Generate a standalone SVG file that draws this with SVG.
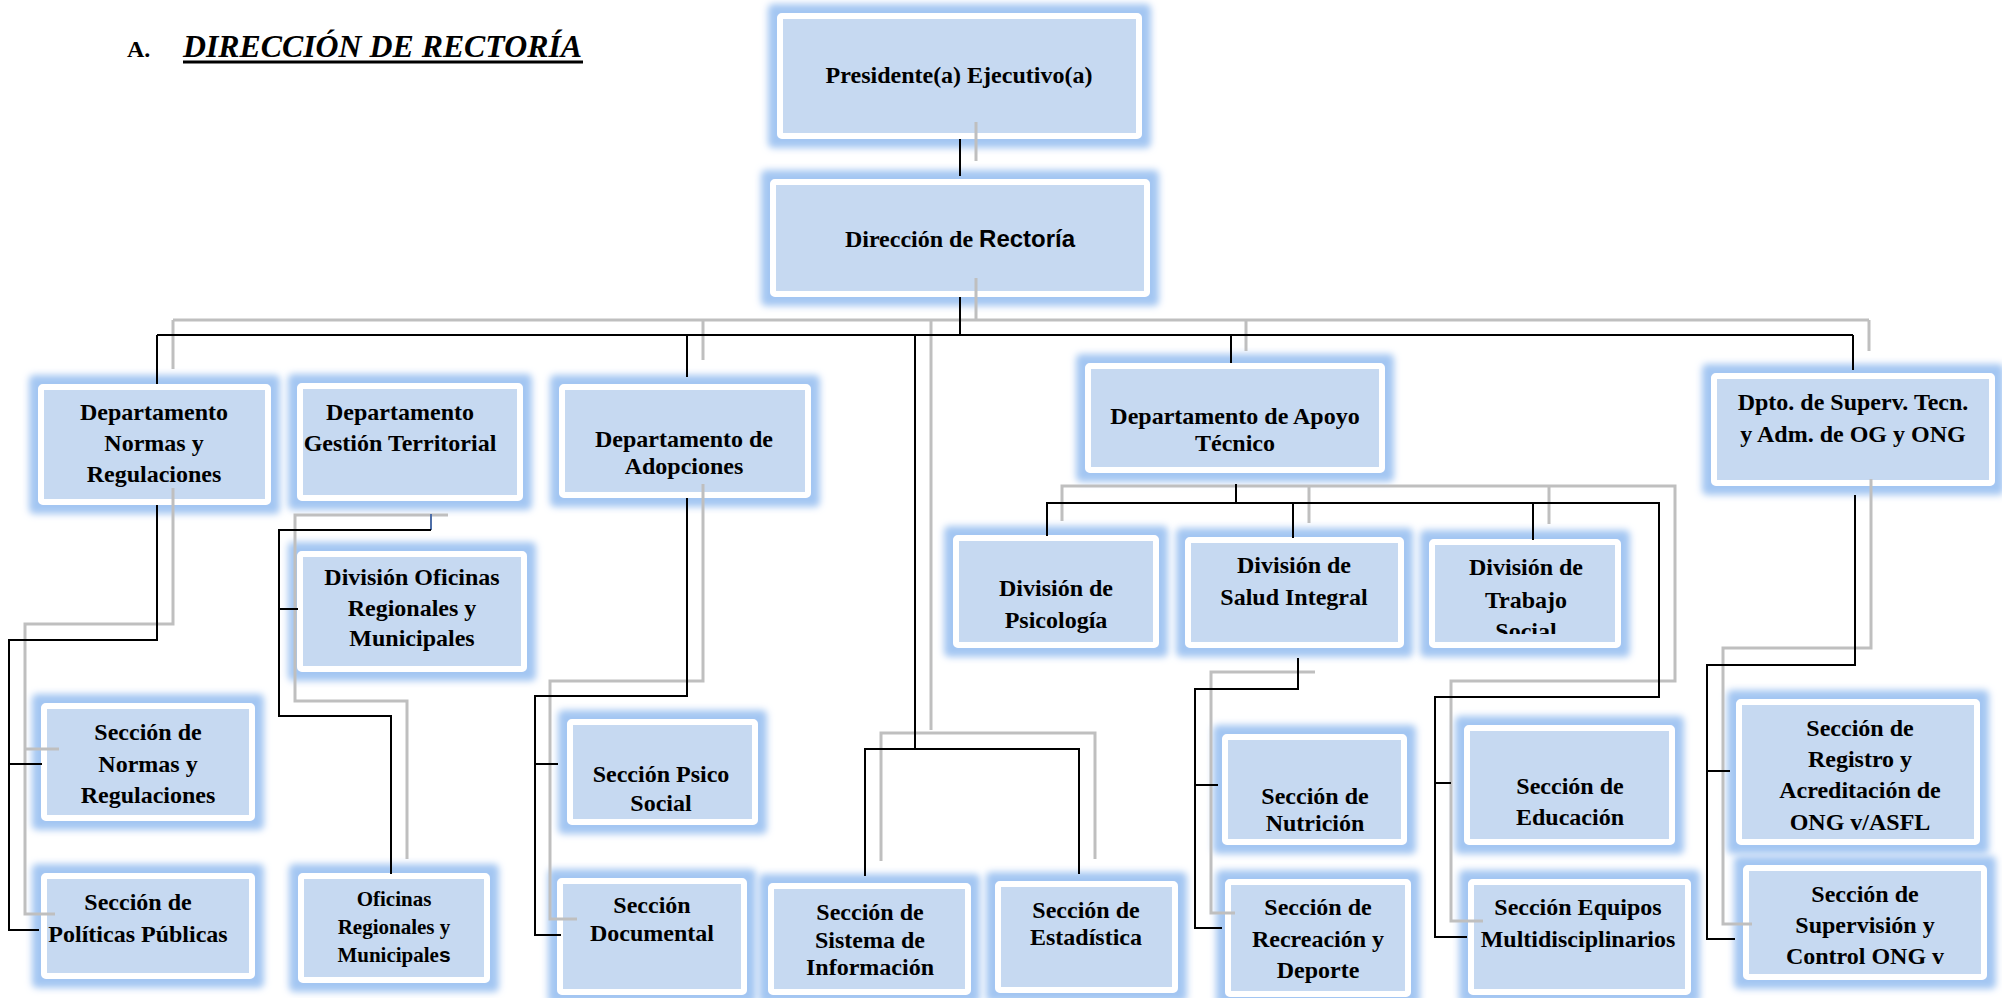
<svg xmlns="http://www.w3.org/2000/svg" width="2002" height="998" viewBox="0 0 2002 998">
  <defs>
    <filter id="glow" x="-20%" y="-35%" width="140%" height="170%">
      <feMorphology in="SourceAlpha" operator="dilate" radius="9" result="grown"/>
      <feGaussianBlur in="grown" stdDeviation="3.5" result="soft"/>
      <feFlood flood-color="#a3c6f2"/>
      <feComposite in2="soft" operator="in" result="halo"/>
      <feMerge>
        <feMergeNode in="halo"/>
        <feMergeNode in="SourceGraphic"/>
      </feMerge>
    </filter>
    <clipPath id="clipTrabajo">
      <rect x="1429" y="539" width="192" height="95"/>
    </clipPath>
  </defs>
  <style>
    .box { fill: #c6d9f1; stroke: #ffffff; stroke-width: 6; filter: url(#glow); }
    .lbl { font-family: "Liberation Serif", "Times New Roman", serif; font-weight: bold; font-size: 24px; fill: #000; text-anchor: middle; }
    .sm { font-size: 21px; }
    .sans { font-family: "Liberation Sans", Arial, sans-serif; }
    .blk { fill: none; stroke: #000; stroke-width: 2; }
    .gry { fill: none; stroke: #bfbfbf; stroke-width: 3; }
    .title { font-family: "Liberation Serif", "Times New Roman", serif; font-weight: bold; fill: #000; }
  </style>
  <rect width="2002" height="998" fill="#ffffff"/>

  <!-- heading -->
  <g id="heading">
    <text class="title" x="127" y="57" font-size="24">A.</text>
    <text class="title" x="183" y="57" font-size="32" font-style="italic" textLength="399" lengthAdjust="spacingAndGlyphs">DIRECCIÓN DE RECTORÍA</text>
    <line x1="183" y1="62" x2="583" y2="62" stroke="#000" stroke-width="3"/>
  </g>

  <!-- organisation units -->
  <g id="presidente">
    <rect class="box" x="780" y="16" width="359" height="120" rx="2"/>
    <text class="lbl" x="959" y="83">Presidente(a) Ejecutivo(a)</text>
  </g>
  <g id="direccion-rectoria">
    <rect class="box" x="773" y="182" width="374" height="112" rx="2"/>
    <text class="lbl" x="960" y="247">Dirección de <tspan class="sans">Rectoría</tspan></text>
  </g>
  <g id="dept-normas">
    <rect class="box" x="41" y="387" width="227" height="115" rx="2"/>
    <text class="lbl" x="154" y="420">Departamento</text>
    <text class="lbl" x="154" y="451">Normas y</text>
    <text class="lbl" x="154" y="482">Regulaciones</text>
  </g>
  <g id="dept-gestion">
    <rect class="box" x="300" y="386" width="220" height="112" rx="2"/>
    <text class="lbl" x="400" y="420">Departamento</text>
    <text class="lbl" x="400" y="451">Gestión Territorial</text>
  </g>
  <g id="dept-adopciones">
    <rect class="box" x="562" y="387" width="246" height="108" rx="2"/>
    <text class="lbl" x="684" y="447">Departamento de</text>
    <text class="lbl" x="684" y="474">Adopciones</text>
  </g>
  <g id="dept-apoyo">
    <rect class="box" x="1088" y="366" width="294" height="104" rx="2"/>
    <text class="lbl" x="1235" y="424">Departamento de Apoyo</text>
    <text class="lbl" x="1235" y="451">Técnico</text>
  </g>
  <g id="dpto-superv">
    <rect class="box" x="1714" y="376" width="278" height="107" rx="2"/>
    <text class="lbl" x="1853" y="410">Dpto. de Superv. Tecn.</text>
    <text class="lbl" x="1853" y="442">y Adm. de OG y ONG</text>
  </g>
  <g id="div-oficinas">
    <rect class="box" x="300" y="554" width="224" height="115" rx="2"/>
    <text class="lbl" x="412" y="585">División Oficinas</text>
    <text class="lbl" x="412" y="616">Regionales y</text>
    <text class="lbl" x="412" y="646">Municipales</text>
  </g>
  <g id="div-psicologia">
    <rect class="box" x="956" y="538" width="200" height="107" rx="2"/>
    <text class="lbl" x="1056" y="596">División de</text>
    <text class="lbl" x="1056" y="628">Psicología</text>
  </g>
  <g id="div-salud">
    <rect class="box" x="1188" y="540" width="213" height="105" rx="2"/>
    <text class="lbl" x="1294" y="573">División de</text>
    <text class="lbl" x="1294" y="605">Salud Integral</text>
  </g>
  <g id="div-trabajo">
    <rect class="box" x="1432" y="542" width="186" height="103" rx="2"/>
    <g clip-path="url(#clipTrabajo)">
      <text class="lbl" x="1526" y="575">División de</text>
      <text class="lbl" x="1526" y="608">Trabajo</text>
      <text class="lbl" x="1526" y="639">Social</text>
    </g>
  </g>
  <g id="sec-normas">
    <rect class="box" x="44" y="706" width="208" height="112" rx="2"/>
    <text class="lbl" x="148" y="740">Sección de</text>
    <text class="lbl" x="148" y="772">Normas y</text>
    <text class="lbl" x="148" y="803">Regulaciones</text>
  </g>
  <g id="sec-politicas">
    <rect class="box" x="44" y="876" width="208" height="100" rx="2"/>
    <text class="lbl" x="138" y="910">Sección de</text>
    <text class="lbl" x="138" y="942">Políticas Públicas</text>
  </g>
  <g id="oficinas-regionales">
    <rect class="box" x="301" y="876" width="186" height="104" rx="2"/>
    <text class="lbl sm" x="394" y="906">Oficinas</text>
    <text class="lbl sm" x="394" y="934">Regionales y</text>
    <text class="lbl sm" x="394" y="962">Municipale<tspan class="sans">s</tspan></text>
  </g>
  <g id="sec-psico">
    <rect class="box" x="570" y="722" width="185" height="100" rx="2"/>
    <text class="lbl" x="661" y="782">Sección Psico</text>
    <text class="lbl" x="661" y="811">Social</text>
  </g>
  <g id="sec-documental">
    <rect class="box" x="560" y="881" width="184" height="111" rx="2"/>
    <text class="lbl" x="652" y="913">Sección</text>
    <text class="lbl" x="652" y="941">Documental</text>
  </g>
  <g id="sec-sistema">
    <rect class="box" x="771" y="886" width="197" height="106" rx="2"/>
    <text class="lbl" x="870" y="920">Sección de</text>
    <text class="lbl" x="870" y="948">Sistema de</text>
    <text class="lbl" x="870" y="975">Información</text>
  </g>
  <g id="sec-estadistica">
    <rect class="box" x="998" y="884" width="177" height="106" rx="2"/>
    <text class="lbl" x="1086" y="918">Sección de</text>
    <text class="lbl" x="1086" y="945">Estadística</text>
  </g>
  <g id="sec-nutricion">
    <rect class="box" x="1225" y="737" width="179" height="105" rx="2"/>
    <text class="lbl" x="1315" y="804">Sección de</text>
    <text class="lbl" x="1315" y="831">Nutrición</text>
  </g>
  <g id="sec-recreacion">
    <rect class="box" x="1228" y="882" width="180" height="112" rx="2"/>
    <text class="lbl" x="1318" y="915">Sección de</text>
    <text class="lbl" x="1318" y="947">Recreación y</text>
    <text class="lbl" x="1318" y="978">Deporte</text>
  </g>
  <g id="sec-educacion">
    <rect class="box" x="1467" y="728" width="205" height="114" rx="2"/>
    <text class="lbl" x="1570" y="794">Sección de</text>
    <text class="lbl" x="1570" y="825">Educación</text>
  </g>
  <g id="sec-equipos">
    <rect class="box" x="1471" y="882" width="217" height="110" rx="2"/>
    <text class="lbl" x="1578" y="915">Sección Equipos</text>
    <text class="lbl" x="1578" y="947">Multidisciplinarios</text>
  </g>
  <g id="sec-registro">
    <rect class="box" x="1739" y="702" width="238" height="140" rx="2"/>
    <text class="lbl" x="1860" y="736">Sección de</text>
    <text class="lbl" x="1860" y="767">Registro y</text>
    <text class="lbl" x="1860" y="798">Acreditación de</text>
    <text class="lbl" x="1860" y="830">ONG v/ASFL</text>
  </g>
  <g id="sec-supervision">
    <rect class="box" x="1746" y="868" width="238" height="109" rx="2"/>
    <text class="lbl" x="1865" y="902">Sección de</text>
    <text class="lbl" x="1865" y="933">Supervisión y</text>
    <text class="lbl" x="1865" y="964">Control ONG v</text>
  </g>

  <!-- reporting lines: grey offset copies and black main lines -->
  <g id="connectors">
    <g id="connectors-grey">
      <path class="gry" d="M976,122 V161"/>
      <path class="gry" d="M976,278 V320"/>
      <path class="gry" d="M173,320 H1869"/>
      <path class="gry" d="M173,320 V369"/>
      <path class="gry" d="M703,320 V360"/>
      <path class="gry" d="M931,320 V730"/>
      <path class="gry" d="M1246,320 V351"/>
      <path class="gry" d="M1869,320 V351"/>
      <path class="gry" d="M173,488 V624 H25 V914 H55"/>
      <path class="gry" d="M25,749 H59"/>
      <path class="gry" d="M448,515 H295 V701 H407 V859"/>
      <path class="gry" d="M703,484 V681 H550 V919 H577"/>
      <path class="gry" d="M881,861 V733 H1095 V859"/>
      <path class="gry" d="M1062,521 V486 H1675 V681 H1451 V921 H1483"/>
      <path class="gry" d="M1309,486 V523"/>
      <path class="gry" d="M1549,486 V524"/>
      <path class="gry" d="M1315,672 H1211 V913 H1235"/>
      <path class="gry" d="M1871,479 V648 H1723 V924 H1752"/>
    </g>
    <g id="connectors-black">
      <path class="blk" d="M960,139 V176"/>
      <path class="blk" d="M960,297 V335"/>
      <path class="blk" d="M157,335 H1853"/>
      <path class="blk" d="M157,335 V384"/>
      <path class="blk" d="M687,335 V377"/>
      <path class="blk" d="M915,335 V749"/>
      <path class="blk" d="M1231,335 V363"/>
      <path class="blk" d="M1853,335 V370"/>
      <path class="blk" d="M157,505 V640 H9 V930 H39"/>
      <path class="blk" d="M9,764 H42"/>
      <path d="M431,514 V530" fill="none" stroke="#4f6fa8" stroke-width="2"/>
      <path class="blk" d="M431,530 H279 V716 H391 V874"/>
      <path class="blk" d="M279,609 H298"/>
      <path class="blk" d="M687,498 V696 H535 V935 H561"/>
      <path class="blk" d="M535,764 H558"/>
      <path class="blk" d="M865,876 V749 H1079 V874"/>
      <path class="blk" d="M1236,484 V503"/>
      <path class="blk" d="M1047,536 V503 H1659 V697 H1435 V937 H1467"/>
      <path class="blk" d="M1293,503 V538"/>
      <path class="blk" d="M1533,503 V540"/>
      <path class="blk" d="M1435,783 H1451"/>
      <path class="blk" d="M1298,658 V689 H1195 V928 H1222"/>
      <path class="blk" d="M1195,785 H1218"/>
      <path class="blk" d="M1855,495 V665 H1707 V939 H1735"/>
      <path class="blk" d="M1707,771 H1730"/>
    </g>
  </g>
</svg>
